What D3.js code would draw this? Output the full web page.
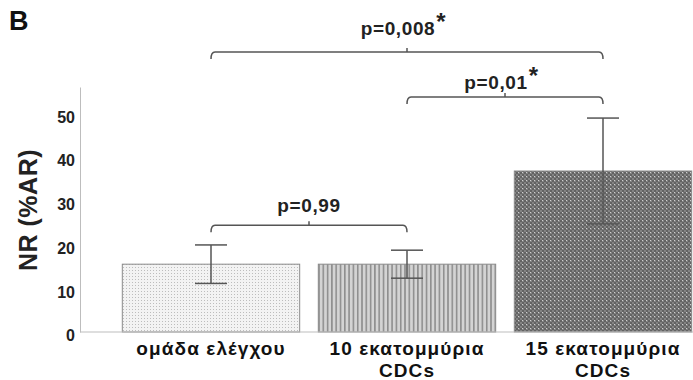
<!DOCTYPE html>
<html>
<head>
<meta charset="utf-8">
<script src="https://cdn.jsdelivr.net/npm/d3@7"></script>
<style>
  body { margin: 0; background: #fff; }
  svg { display: block; font-family: "Liberation Sans", Arial, sans-serif; font-weight: bold; }
</style>
</head>
<body>
<svg id="chart"></svg>
<script>
var width = 693;
var height = 380;

// group labels (split on lines), means and error half-widths
var categories = [["ομάδα ελέγχου"], ["10 εκατομμύρια", "CDCs"], ["15 εκατομμύρια", "CDCs"]];
var means = [15.5, 15.5, 36.8];
var errors = [4.4, 3.2, 12.1];
var yTicks = [0, 10, 20, 30, 40, 50];

// significance brackets: which bars, text, star, level (in y units)
var pairFrom = [0, 1, 0];
var pairTo = [1, 2, 2];
var pLabels = ["p=0,99", "p=0,01", "p=0,008"];
var pStars = [false, true, true];
var pLevels = [24.4, 53.7, 64];

var svg = d3.select("#chart").attr("width", width).attr("height", height);

// fill patterns
var defs = svg.append("defs");

var p1 = defs.append("pattern").attr("id", "dots").attr("patternUnits", "userSpaceOnUse")
    .attr("width", 3).attr("height", 3);
p1.append("rect").attr("width", 3).attr("height", 3).attr("fill", "#f3f3f3");
p1.append("rect").attr("width", 1).attr("height", 1).attr("fill", "#bdbdbd");

var p2 = defs.append("pattern").attr("id", "stripes").attr("patternUnits", "userSpaceOnUse")
    .attr("width", 4.3).attr("height", 4);
p2.append("rect").attr("width", 4.3).attr("height", 4).attr("fill", "#d4d4d4");
p2.append("rect").attr("width", 1.6).attr("height", 4).attr("fill", "#8e8e8e");

var p3 = defs.append("pattern").attr("id", "checks").attr("patternUnits", "userSpaceOnUse")
    .attr("width", 4).attr("height", 4);
p3.append("rect").attr("width", 4).attr("height", 4).attr("fill", "#838383");
p3.append("rect").attr("width", 2).attr("height", 2).attr("fill", "#636363");
p3.append("rect").attr("x", 2).attr("y", 2).attr("width", 2).attr("height", 2).attr("fill", "#636363");
p3.append("rect").attr("x", 2).attr("y", 0).attr("width", 1).attr("height", 1).attr("fill", "#cfcfcf");

var fills = ["url(#dots)", "url(#stripes)", "url(#checks)"];

var x = d3.scaleBand().domain(d3.range(categories.length)).range([113, 701])
    .paddingInner(0.095).paddingOuter(0.0475);
var y = d3.scaleLinear().domain([0, 56]).range([332, 87]);

// y axis
var yAxis = svg.append("g").attr("transform", "translate(80,0)")
    .call(d3.axisLeft(y).tickValues(yTicks).tickSizeInner(0).tickSizeOuter(0).tickPadding(5));
yAxis.select(".domain").attr("stroke", "#bdbdbd");
yAxis.selectAll("text").attr("font-size", 16).attr("font-family", "Liberation Sans, Arial, sans-serif")
    .attr("font-weight", "bold").attr("fill", "#222").attr("dy", "0.55em");

svg.append("text")
    .attr("transform", "translate(37," + 210 + ") rotate(-90)")
    .attr("text-anchor", "middle").attr("font-size", 25).attr("letter-spacing", 0.5).attr("fill", "#222")
    .text("NR (%AR)");

svg.append("text").attr("x", 9).attr("y", 30).attr("font-size", 27).attr("fill", "#111").text("B");

// bars
svg.selectAll(".bar").data(means).enter().append("rect")
    .attr("class", "bar")
    .attr("x", function(d, i) { return x(i); })
    .attr("y", function(d) { return y(d); })
    .attr("width", x.bandwidth())
    .attr("height", function(d) { return y(0) - y(d); })
    .attr("fill", function(d, i) { return fills[i]; })
    .attr("stroke", "#8a8a8a").attr("stroke-width", 1);

// baseline
svg.append("line").attr("x1", 80).attr("x2", width).attr("y1", y(0)).attr("y2", y(0))
    .attr("stroke", "#bdbdbd").attr("stroke-width", 1.2);

// error bars
var cx = function(i) { return x(i) + x.bandwidth() / 2; };
var cap = 16;
var eb = svg.selectAll(".err").data(means).enter().append("g").attr("class", "err")
    .attr("stroke", "#555").attr("stroke-width", 1.5);
eb.append("line").attr("x1", function(d, i) { return cx(i); }).attr("x2", function(d, i) { return cx(i); })
    .attr("y1", function(d, i) { return y(d + errors[i]); }).attr("y2", function(d, i) { return y(d - errors[i]); });
eb.append("line").attr("x1", function(d, i) { return cx(i) - cap; }).attr("x2", function(d, i) { return cx(i) + cap; })
    .attr("y1", function(d, i) { return y(d + errors[i]); }).attr("y2", function(d, i) { return y(d + errors[i]); });
eb.append("line").attr("x1", function(d, i) { return cx(i) - cap; }).attr("x2", function(d, i) { return cx(i) + cap; })
    .attr("y1", function(d, i) { return y(d - errors[i]); }).attr("y2", function(d, i) { return y(d - errors[i]); });

// category labels
var lab = svg.selectAll(".cat").data(categories).enter().append("text")
    .attr("class", "cat").attr("text-anchor", "middle").attr("font-size", 19)
    .attr("letter-spacing", 1.1).attr("fill", "#111");
lab.selectAll("tspan").data(function(d, i) { return d.map(function(t) { return { t: t, i: i }; }); })
    .enter().append("tspan")
    .attr("x", function(d) { return cx(d.i); })
    .attr("y", function(d, j) { return 355 + j * 21.5; })
    .text(function(d) { return d.t; });

// brackets
var labelGap = [13, 8, 17];
pLabels.forEach(function(label, k) {
  var xa = cx(pairFrom[k]), xb = cx(pairTo[k]), ly = y(pLevels[k]);
  var mid = (xa + xb) / 2;
  var g = svg.append("g");
  g.append("path")
    .attr("d", "M" + xa + "," + (ly + 7) + "Q" + xa + "," + ly + " " + (xa + 4) + "," + ly +
      "H" + (xb - 4) + "Q" + xb + "," + ly + " " + xb + "," + (ly + 7) +
      "M" + mid + "," + ly + "V" + (ly - 4))
    .attr("fill", "none").attr("stroke", "#555").attr("stroke-width", 1.5);
  var t = g.append("text").attr("x", mid - (pStars[k] ? 9 : 0)).attr("y", ly - labelGap[k])
    .attr("text-anchor", "middle").attr("font-size", 19).attr("letter-spacing", 0.6)
    .attr("fill", "#222").text(label);
  if (pStars[k]) {
    var w = t.node().getComputedTextLength();
    g.append("text").attr("x", mid - 9 + w / 2 + 1).attr("y", ly - labelGap[k] - 5)
      .attr("font-size", 24).attr("fill", "#222").text("*");
  }
});
</script>
</body>
</html>
